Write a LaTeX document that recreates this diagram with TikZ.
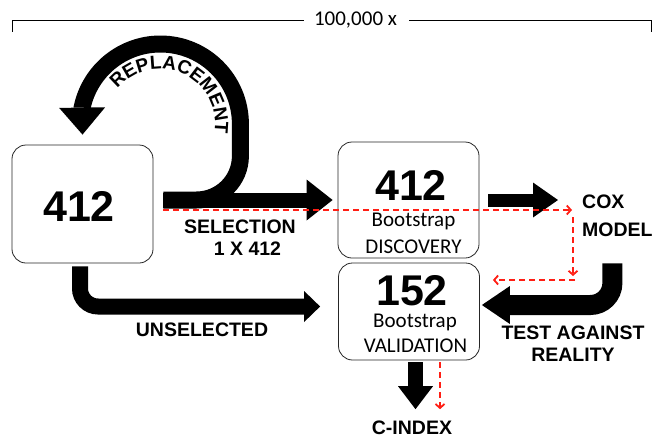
\documentclass[tikz,border=0pt]{standalone}
\usepackage{fontspec}
\setmainfont{Carlito}
\newfontfamily\labelfont{Liberation Sans}
\usetikzlibrary{arrows.meta,decorations.text,positioning}

\begin{document}
\begin{tikzpicture}[x=1pt, y=-1pt,
	box/.style={draw=black!85, fill=white, line width=0.8pt, rounded corners=14pt, inner sep=0pt},
	zahl/.style={font=\labelfont\bfseries\fontsize{43}{43}\selectfont, inner sep=0pt, anchor=base},
	info/.style={font=\fontsize{21}{21}\selectfont, inner sep=0pt, anchor=base},
	beschr/.style={font=\labelfont\bfseries\fontsize{19.5}{22}\selectfont, inner sep=0pt, align=center},
	rot/.style={draw={rgb,255:red,255;green,30;blue,20}, line width=1.8pt, dash pattern=on 6pt off 4pt, -{Straight Barb[length=4pt,width=9pt]}}
	]
	
	\useasboundingbox (0,0) rectangle (658,437);
	
	% Klammer oben mit Anzahl
	\node[font=\fontsize{21}{21}\selectfont, inner sep=0pt] (anzahl) at (355.5,20) {100,000 x};
	\draw[line width=1pt] ([xshift=-10pt]anzahl.west) -| ++(-291,12);
	\draw[line width=1pt] ([xshift=12pt]anzahl.east) -| ++(242,12);
	
	% Kaesten
	\node[box, minimum width=141pt, minimum height=118pt] (gesamt) at (82.5,204) {};
	\node[box, minimum width=141pt, minimum height=116pt] (disc) at (408.5,200) {};
	\node[box, minimum width=141pt, minimum height=97pt] (valid) at (409,311.5) {};
	
	% Inhalt der Kaesten
	\node[zahl] (n1) at (79,221) {412};
	\node[zahl] (n2) at (411,200) {412};
	\node[info] (b1) at (413.5,226) {Bootstrap};
	\node[info] (d1) at (413.5,253) {DISCOVERY};
	\node[zahl] (n3) at (412,305) {152};
	\node[info] (b2) at (415,327) {Bootstrap};
	\node[info] (v1) at (415.5,352) {VALIDATION};
	
	% Beschriftungen
	\node[beschr] (sel) at (240,237.5) {SELECTION\\\hspace*{15pt}1 X 412};
	\node[beschr] (unsel) at (202,330) {UNSELECTED};
	\node[beschr, align=left, anchor=west, font=\labelfont\bfseries\fontsize{19.5}{28.5}\selectfont] (cox) at (582,216) {COX\\MODEL};
	\node[beschr] (real) at (573,344) {TEST AGAINST\\REALITY};
	\node[beschr, anchor=base] (cidx) at (412,434) {C-INDEX};
	
	% Ziehen mit Zuruecklegen (Bogen)
	\draw[line width=17pt, -{Triangle[length=27pt,width=46pt,line width=0pt]}]
		([xshift=10pt,yshift=4pt]gesamt.east) -- ++(33,0) arc[start angle=90, end angle=0, radius=44]
		-- ++(0,-32) arc[start angle=0, end angle=-168, radius=80] -- ([yshift=10pt]gesamt.north);
	\path[decorate, decoration={text along path, text align=center,
		text={|\labelfont\bfseries\fontsize{19}{19}\selectfont|REPLACEMENT}}]
		(160,124) ++(-142:55) arc[start angle=-142, end angle=11, radius=55];
	
	% Dicke Pfeile
	\draw[line width=15pt, -{Triangle[length=26pt,width=41pt,line width=0pt]}]
		([xshift=10pt,yshift=4pt]gesamt.east) -- ([xshift=-5pt]disc.west |- 0,200);
	\draw[line width=16pt, rounded corners=18pt, -{Triangle[length=16pt,width=31pt,line width=0pt]}]
		([xshift=-2.5pt,yshift=-3pt]gesamt.south) |- ([xshift=-18pt,yshift=5pt]valid.west);
	\draw[line width=13pt, -{Triangle[length=25pt,width=35pt,line width=0pt]}]
		([xshift=9pt]disc.east) -- ([xshift=-24pt,yshift=16pt]cox.west);
	\draw[line width=20pt, rounded corners=22pt, -{Triangle[length=28pt,width=38pt,line width=0pt]}]
		([xshift=-5pt,yshift=-26pt]cox.south) |- ([xshift=2pt,yshift=6.5pt]valid.east);
	\draw[line width=15pt, -{Triangle[length=23pt,width=35pt,line width=0pt]}]
		([xshift=6.5pt,yshift=-2pt]valid.south) -- ([xshift=3.5pt,yshift=11pt]cidx.north);
	
	% Rote gestrichelte Linien
	\draw[rot] ([xshift=10pt,yshift=-6pt]gesamt.east) -- ([xshift=-10pt,yshift=6pt]cox.west);
	\draw[rot] ([xshift=-9pt,yshift=-1pt]cox.west) -- ([xshift=-9pt,yshift=-60pt]cox.west);
	\draw[rot] ([xshift=-7pt,yshift=-64pt]cox.west) -- ([xshift=13pt,yshift=31.5pt]valid.east);
	\draw[rot] ([xshift=31pt,yshift=-2pt]valid.south) -- ([xshift=28pt,yshift=11pt]cidx.north);
	
\end{tikzpicture}
\end{document}
